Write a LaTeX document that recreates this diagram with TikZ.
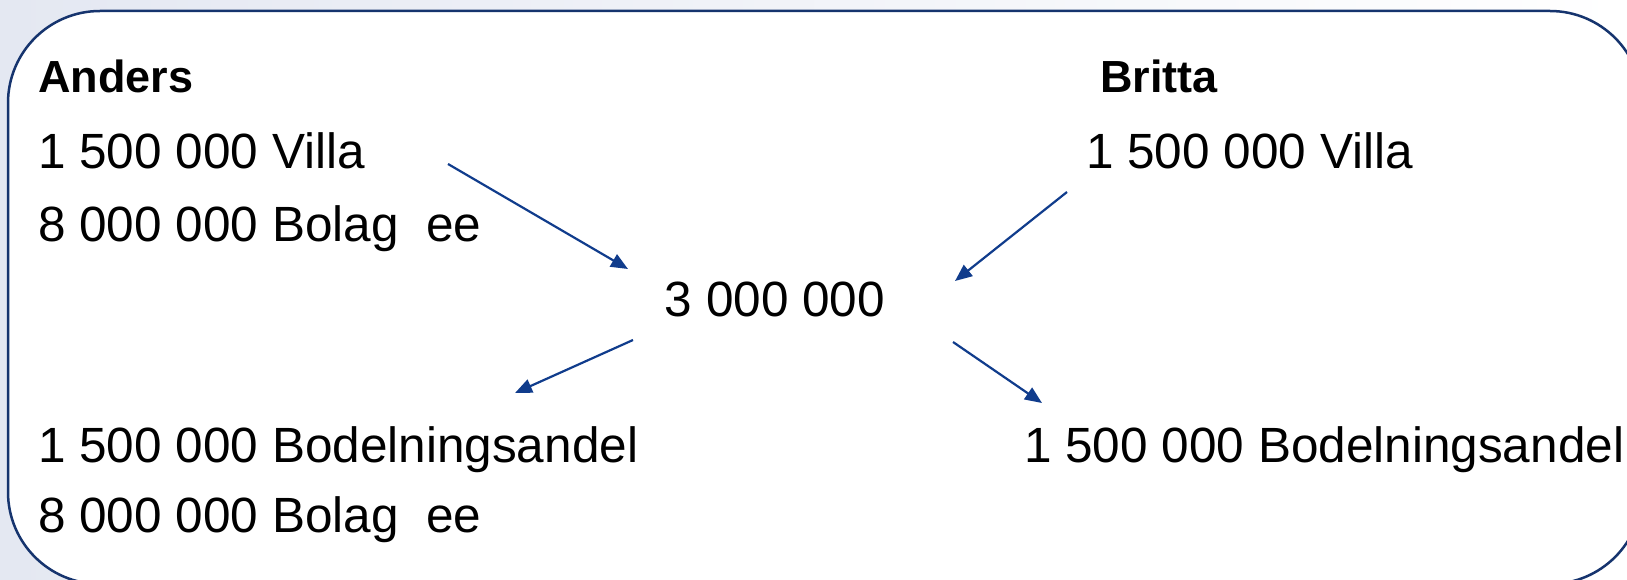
\documentclass[tikz,border=0pt]{standalone}
\usepackage{fontspec}
\setmainfont{Liberation Sans}
\usetikzlibrary{arrows.meta}
\definecolor{navy}{RGB}{22,52,110}
\definecolor{arrowblue}{RGB}{16,60,140}
\definecolor{bgleft}{RGB}{228,232,242}
\begin{document}
\begin{tikzpicture}[x=1pt,y=-1pt,
  txt/.style={anchor=base west, inner sep=0pt, font=\fontsize{49.5}{58}\selectfont},
  hdr/.style={anchor=base west, inner sep=0pt, font=\fontsize{45}{55}\selectfont\bfseries},
  arr/.style={draw=arrowblue, line width=2.2pt, -{Triangle[length=17pt,width=14pt]}}]
\useasboundingbox (0,0) rectangle (1627,580);
\clip (0,0) rectangle (1627,580);
\shade[left color=bgleft, right color=white] (0,0) rectangle (1627,580);
\draw[navy, fill=white, line width=2.5pt, rounded corners=92pt] (8,11) rectangle (1642,584);
% Anders
\node[hdr] (anders) at (38,93) {Anders};
\node[txt] (avilla) at (38,169) {1 500 000 Villa};
\node[txt] (abolag) at (38,241) {8 000 000 Bolag\ \ ee};
% Britta
\node[hdr] (britta) at (1100,93) {Britta};
\node[txt] (bvilla) at (1086,169) {1 500 000 Villa};
% center
\node[txt, anchor=base] (total) at (775,316) {3 000 000};
% results
\node[txt] (abodel) at (38,462) {1 500 000 Bodelningsandel};
\node[txt] (abolag2) at (38,532) {8 000 000 Bolag\ \ ee};
\node[txt] (bbodel) at (1024,462) {1 500 000 Bodelningsandel};
% arrow end points
\coordinate (a1s) at (448,164);
\coordinate (a1e) at (628,269);
\coordinate (a2s) at (1067,192);
\coordinate (a2e) at (955,281);
\coordinate (a3s) at (633,340);
\coordinate (a3e) at (515,393);
\coordinate (a4s) at (953,342);
\coordinate (a4e) at (1042,403);
\draw[arr] (a1s) -- (a1e);
\draw[arr] (a2s) -- (a2e);
\draw[arr] (a3s) -- (a3e);
\draw[arr] (a4s) -- (a4e);
\end{tikzpicture}
\end{document}
